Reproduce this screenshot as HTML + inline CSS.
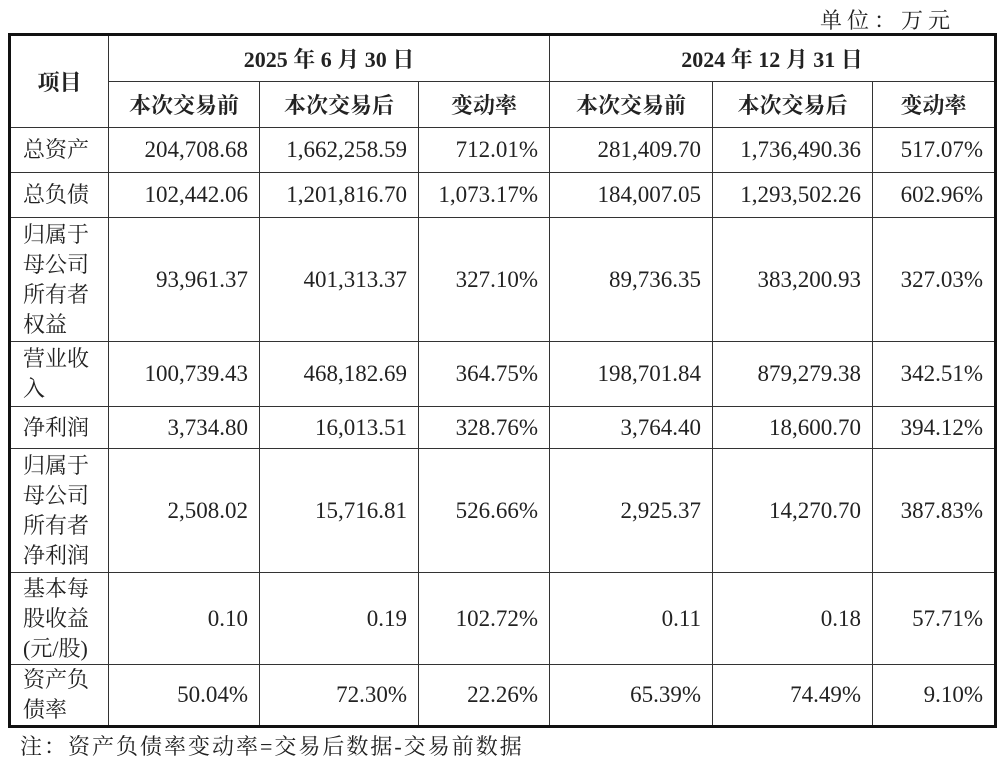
<!DOCTYPE html>
<html><head><meta charset="utf-8"><style>
body{margin:0;width:1007px;height:759px;background:#fff;position:relative;overflow:hidden;font-family:"Liberation Serif","Noto Serif CJK SC",serif;color:#222}
table{position:absolute;left:8px;top:33px;border-collapse:collapse;table-layout:fixed;border:3px solid #111}
td{border:1.5px solid #333;font-size:23px;padding:0 11px 0 6px;text-align:right;white-space:nowrap}
td.l{text-align:left;line-height:30px;padding-left:12px;font-size:22px}
th{border:1.5px solid #333;font-size:22px;font-weight:bold;text-align:center;padding:0}
.u{position:absolute;left:820px;top:4px;font-size:22px;letter-spacing:5px}
.n{position:absolute;left:20px;top:730px;font-size:22px;letter-spacing:2px}
</style></head><body>
<div class="u">单位：万元</div>
<table>
<colgroup><col style="width:99px"><col style="width:151px"><col style="width:159px"><col style="width:131px"><col style="width:163px"><col style="width:160px"><col style="width:123px"></colgroup>
<tr style="height:47px"><th rowspan="2">项目</th><th colspan="3">2025 年 6 月 30 日</th><th colspan="3">2024 年 12 月 31 日</th></tr>
<tr style="height:46px"><th>本次交易前</th><th>本次交易后</th><th>变动率</th><th>本次交易前</th><th>本次交易后</th><th>变动率</th></tr>
<tr style="height:45px"><td class="l">总资产</td><td>204,708.68</td><td>1,662,258.59</td><td>712.01%</td><td>281,409.70</td><td>1,736,490.36</td><td>517.07%</td></tr>
<tr style="height:45px"><td class="l">总负债</td><td>102,442.06</td><td>1,201,816.70</td><td>1,073.17%</td><td>184,007.05</td><td>1,293,502.26</td><td>602.96%</td></tr>
<tr style="height:124px"><td class="l">归属于<br>母公司<br>所有者<br>权益</td><td>93,961.37</td><td>401,313.37</td><td>327.10%</td><td>89,736.35</td><td>383,200.93</td><td>327.03%</td></tr>
<tr style="height:65px"><td class="l">营业收<br>入</td><td>100,739.43</td><td>468,182.69</td><td>364.75%</td><td>198,701.84</td><td>879,279.38</td><td>342.51%</td></tr>
<tr style="height:42px"><td class="l">净利润</td><td>3,734.80</td><td>16,013.51</td><td>328.76%</td><td>3,764.40</td><td>18,600.70</td><td>394.12%</td></tr>
<tr style="height:124px"><td class="l">归属于<br>母公司<br>所有者<br>净利润</td><td>2,508.02</td><td>15,716.81</td><td>526.66%</td><td>2,925.37</td><td>14,270.70</td><td>387.83%</td></tr>
<tr style="height:92px"><td class="l">基本每<br>股收益<br>(元/股)</td><td>0.10</td><td>0.19</td><td>102.72%</td><td>0.11</td><td>0.18</td><td>57.71%</td></tr>
<tr style="height:62px"><td class="l">资产负<br>债率</td><td>50.04%</td><td>72.30%</td><td>22.26%</td><td>65.39%</td><td>74.49%</td><td>9.10%</td></tr>
</table>
<div class="n">注：资产负债率变动率=交易后数据-交易前数据</div>
</body></html>
